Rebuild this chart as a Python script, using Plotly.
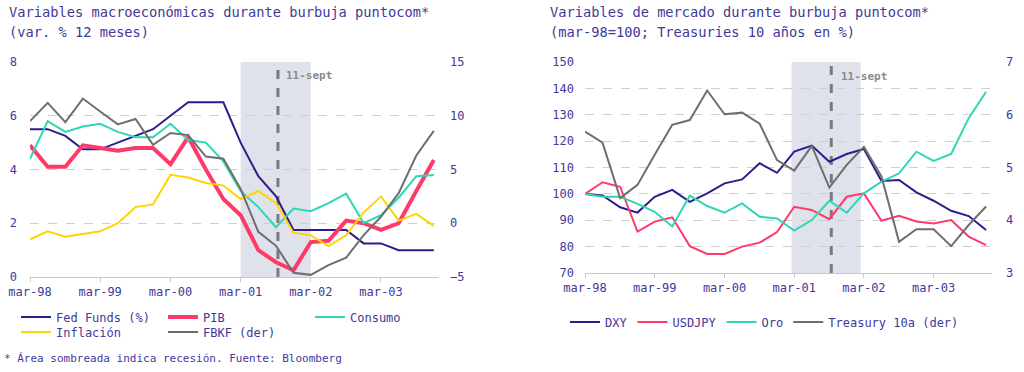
import plotly.graph_objects as go

# ---------------- data ----------------
dates = ["1998-03-01", "1998-06-01", "1998-09-01", "1998-12-01",
         "1999-03-01", "1999-06-01", "1999-09-01", "1999-12-01",
         "2000-03-01", "2000-06-01", "2000-09-01", "2000-12-01",
         "2001-03-01", "2001-06-01", "2001-09-01", "2001-12-01",
         "2002-03-01", "2002-06-01", "2002-09-01", "2002-12-01",
         "2003-03-01", "2003-06-01", "2003-09-01", "2003-12-01"]

tick_vals = ["1998-03-01", "1999-03-01", "2000-03-01", "2001-03-01", "2002-03-01", "2003-03-01"]
tick_text = ["mar-98", "mar-99", "mar-00", "mar-01", "mar-02", "mar-03"]

# Left chart (var. % 12 meses)
fed_funds = [5.5, 5.5, 5.25, 4.75, 4.75, 5.0, 5.25, 5.5, 6.0, 6.5, 6.5, 6.5,
             5.0, 3.75, 3.0, 1.75, 1.75, 1.75, 1.75, 1.25, 1.25, 1.0, 1.0, 1.0]
pib = [4.9, 4.1, 4.1, 4.9, 4.8, 4.7, 4.8, 4.8, 4.2, 5.2, 4.0, 2.9,
       2.3, 1.0, 0.55, 0.25, 1.3, 1.35, 2.1, 2.0, 1.75, 2.0, 3.2, 4.35]
consumo = [4.4, 5.8, 5.4, 5.6, 5.7, 5.4, 5.2, 5.2, 5.7, 5.1, 5.0, 4.3,
           3.2, 2.6, 1.85, 2.55, 2.45, 2.75, 3.1, 2.0, 2.3, 2.95, 3.75, 3.8]
inflacion = [1.4, 1.7, 1.5, 1.6, 1.7, 2.0, 2.6, 2.7, 3.8, 3.7, 3.5, 3.4,
             2.9, 3.2, 2.75, 1.65, 1.55, 1.15, 1.55, 2.4, 3.0, 2.1, 2.35, 1.9]
fbkf = [9.5, 11.2, 9.4, 11.6, 10.4, 9.2, 9.7, 7.3, 8.4, 8.2, 6.2, 6.0,
        3.2, -0.8, -2.1, -4.6, -4.8, -3.9, -3.2, -1.1, 0.6, 2.8, 6.3, 8.6]

# Right chart (mar-98=100; Treasuries 10 años en %)
dxy = [100, 99.4, 94.9, 92.9, 98.9, 101.5, 97.0, 100.2, 104, 105.5, 111.6, 108,
       116, 118.3, 112.2, 115.1, 117, 104.9, 105.3, 100.6, 97.4, 93.6, 91.6, 86.3]
usdjpy = [100, 104.4, 102.7, 85.7, 89.5, 91.1, 80.2, 77.2, 77.2, 80, 81.5, 85.5,
          95.1, 93.9, 90.4, 98.9, 100.2, 89.8, 91.7, 89.5, 88.8, 90.1, 83.8, 80.6]
oro = [100, 98.9, 98.9, 96.2, 93.2, 87.6, 99.3, 95.4, 92.9, 96.4, 91.3, 90.7,
       86.1, 90.1, 97.4, 92.9, 100.2, 104.6, 107.8, 116, 112.5, 115.1, 128.7, 138.7]
treasury = [5.68, 5.47, 4.42, 4.67, 5.24, 5.81, 5.90, 6.46, 6.01, 6.04, 5.83, 5.14,
            4.94, 5.41, 4.62, 5.05, 5.39, 4.83, 3.59, 3.83, 3.83, 3.51, 3.91, 4.26]

# ---------------- style ----------------
TXT = "#43389a"
FONT = "DejaVu Sans Mono"
C_NAVY = "#2d1d8c"
C_PINK = "#ff3a6b"
C_TEAL = "#2fd6b5"
C_YELL = "#ffd400"
C_GRAY = "#6e6e6e"
GRID = "#cfcfcf"
SHADE = "#dfe2ea"

fig = go.Figure()

# left chart
fig.add_trace(go.Scatter(x=dates, y=fed_funds, name="Fed Funds (%)", mode="lines",
                         line=dict(color=C_NAVY, width=2), xaxis="x", yaxis="y", legend="legend"))
fig.add_trace(go.Scatter(x=dates, y=pib, name="PIB", mode="lines",
                         line=dict(color=C_PINK, width=4), xaxis="x", yaxis="y", legend="legend"))
fig.add_trace(go.Scatter(x=dates, y=consumo, name="Consumo", mode="lines",
                         line=dict(color=C_TEAL, width=2), xaxis="x", yaxis="y", legend="legend"))
fig.add_trace(go.Scatter(x=dates, y=inflacion, name="Inflación", mode="lines",
                         line=dict(color=C_YELL, width=2), xaxis="x", yaxis="y", legend="legend2"))
fig.add_trace(go.Scatter(x=dates, y=fbkf, name="FBKF (der)", mode="lines",
                         line=dict(color=C_GRAY, width=2), xaxis="x", yaxis="y2", legend="legend2"))

# right chart
fig.add_trace(go.Scatter(x=dates, y=dxy, name="DXY", mode="lines",
                         line=dict(color=C_NAVY, width=2), xaxis="x2", yaxis="y3", legend="legend3"))
fig.add_trace(go.Scatter(x=dates, y=usdjpy, name="USDJPY", mode="lines",
                         line=dict(color=C_PINK, width=2), xaxis="x2", yaxis="y3", legend="legend3"))
fig.add_trace(go.Scatter(x=dates, y=oro, name="Oro", mode="lines",
                         line=dict(color=C_TEAL, width=2), xaxis="x2", yaxis="y3", legend="legend3"))
fig.add_trace(go.Scatter(x=dates, y=treasury, name="Treasury 10a (der)", mode="lines",
                         line=dict(color=C_GRAY, width=2), xaxis="x2", yaxis="y4", legend="legend3"))

tickfont = dict(family=FONT, size=12, color=TXT)

xcommon = dict(type="date", tickvals=tick_vals, ticktext=tick_text, ticks="outside",
               ticklen=4, tickcolor="#c8c8c8", showline=True, linecolor="#c8c8c8",
               linewidth=1, showgrid=False, zeroline=False, tickfont=tickfont, automargin=False)
ycommon = dict(showgrid=True, gridcolor=GRID, griddash="dash", gridwidth=1,
               zeroline=False, showline=False, ticks="", tickfont=tickfont, automargin=False)
y2common = dict(showgrid=False, zeroline=False, showline=False, ticks="", tickfont=tickfont,
                automargin=False)

fig.update_layout(
    width=1024, height=372, autosize=False,
    margin=dict(l=0, r=0, t=0, b=0, pad=0),
    paper_bgcolor="white", plot_bgcolor="white",
    font=dict(family=FONT, size=12, color=TXT),
    xaxis=dict(domain=[30 / 1024, 439 / 1024], anchor="y",
               range=["1998-03-01", "2003-12-28"], **xcommon),
    yaxis=dict(domain=[1 - 277 / 372, 1 - 62 / 372], anchor="x",
               range=[0, 8], dtick=2, tick0=0, ticklabelstandoff=12, **ycommon),
    yaxis2=dict(overlaying="y", side="right", anchor="x", range=[-5, 15], dtick=5, tick0=-5,
                ticklabelstandoff=10, **y2common),
    xaxis2=dict(domain=[585 / 1024, 992 / 1024], anchor="y3",
                range=["1998-03-01", "2004-01-01"], **xcommon),
    yaxis3=dict(domain=[1 - 273 / 372, 1 - 62 / 372], anchor="x2",
                range=[70, 150], dtick=10, tick0=70, ticklabelstandoff=10, **ycommon),
    yaxis4=dict(overlaying="y3", side="right", anchor="x2", range=[3, 7], dtick=1, tick0=3,
                ticklabelstandoff=13, **y2common),
    legend=dict(orientation="h", x=16 / 1024, xanchor="left", y=1 - 317 / 372, yanchor="middle",
                font=tickfont, bgcolor="rgba(0,0,0,0)", entrywidth=102, entrywidthmode="pixels",
                itemwidth=30, tracegroupgap=0),
    legend2=dict(orientation="h", x=16 / 1024, xanchor="left", y=1 - 332 / 372, yanchor="middle",
                 font=tickfont, bgcolor="rgba(0,0,0,0)", entrywidth=102, entrywidthmode="pixels",
                 itemwidth=30, tracegroupgap=0),
    legend3=dict(orientation="h", x=565 / 1024, xanchor="left", y=1 - 322 / 372, yanchor="middle",
                 font=tickfont, bgcolor="rgba(0,0,0,0)", itemwidth=30, tracegroupgap=0),
    showlegend=True,
)

# recession shading and 11-sept line
shapes = [
    dict(type="rect", xref="x", yref="y domain", x0="2001-03-01", x1="2002-03-01", y0=0, y1=1,
         fillcolor=SHADE, line=dict(width=0), layer="below"),
    dict(type="line", xref="x", yref="y domain", x0="2001-09-11", x1="2001-09-11", y0=0, y1=1,
         line=dict(color="#7a7a7a", width=3, dash="dash"), layer="below"),
    dict(type="rect", xref="x2", yref="y3 domain", x0="2001-02-15", x1="2002-02-12", y0=0, y1=1,
         fillcolor=SHADE, line=dict(width=0), layer="below"),
    dict(type="line", xref="x2", yref="y3 domain", x0="2001-09-11", x1="2001-09-11", y0=0, y1=1,
         line=dict(color="#7a7a7a", width=3, dash="dash"), layer="below"),
]
fig.update_layout(shapes=shapes)

sept_font = dict(family=FONT, size=11, color="#8a8a8a", weight="bold")
title_font = dict(family=FONT, size=13.7, color=TXT)
annotations = [
    dict(text="11-sept", xref="x", yref="paper", x="2001-09-11", y=1 - 75 / 372,
         xanchor="left", yanchor="middle", xshift=6, showarrow=False, font=sept_font),
    dict(text="11-sept", xref="x2", yref="paper", x="2001-09-11", y=1 - 76 / 372,
         xanchor="left", yanchor="middle", xshift=8, showarrow=False, font=sept_font),
    dict(text="Variables macroeconómicas durante burbuja puntocom*", xref="paper", yref="paper",
         x=7 / 1024, y=1 - 12 / 372, xanchor="left", yanchor="middle", showarrow=False, font=title_font),
    dict(text="(var. % 12 meses)", xref="paper", yref="paper",
         x=7 / 1024, y=1 - 32 / 372, xanchor="left", yanchor="middle", showarrow=False, font=title_font),
    dict(text="Variables de mercado durante burbuja puntocom*", xref="paper", yref="paper",
         x=548 / 1024, y=1 - 12 / 372, xanchor="left", yanchor="middle", showarrow=False, font=title_font),
    dict(text="(mar-98=100; Treasuries 10 años en %)", xref="paper", yref="paper",
         x=548 / 1024, y=1 - 32 / 372, xanchor="left", yanchor="middle", showarrow=False, font=title_font),
    dict(text="* Área sombreada indica recesión. Fuente: Bloomberg", xref="paper", yref="paper",
         x=2 / 1024, y=1 - 358 / 372, xanchor="left", yanchor="middle", showarrow=False,
         font=dict(family=FONT, size=11, color=TXT)),
]
fig.update_layout(annotations=annotations)

fig.write_html("out.html", config={"displayModeBar": False},
               post_script="document.body.style.margin='0';")
